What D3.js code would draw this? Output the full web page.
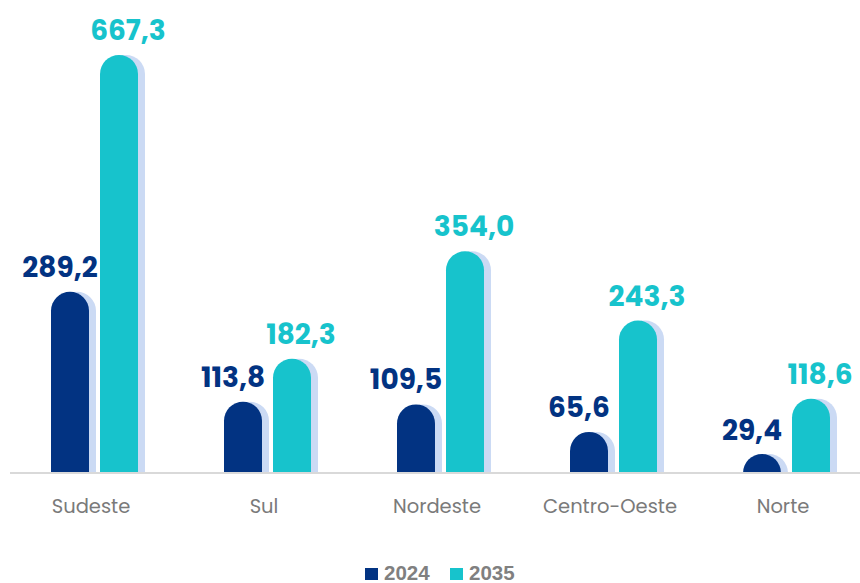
<!DOCTYPE html>
<html>
<head>
<meta charset="utf-8">
<script src="https://cdn.jsdelivr.net/npm/d3@7"></script>
<style>
  html, body { margin: 0; padding: 0; background: #fff; }
  svg { display: block; }
</style>
</head>
<body>
<svg id="chart" width="860" height="583"></svg>
<script>
// Regions and yearly values
const regions = ["Sudeste", "Sul", "Nordeste", "Centro-Oeste", "Norte"];
const series = ["2024", "2035"];
const values2024 = [289.2, 113.8, 109.5, 65.6, 29.4];
const values2035 = [667.3, 182.3, 354.0, 243.3, 118.6];

const colors = { "2024": "#023382", "2035": "#17c3cc" };
const shadowColor = "#cbdaf4";
const labelDx = { "2024": -10, "2035": 9 };

const svg = d3.select("#chart");
const baseY = 473, topY = 55;

const rows = regions.map((r, i) => ({ region: r, "2024": values2024[i], "2035": values2035[i] }));

const x0 = d3.scaleBand().domain(regions).range([8.5, 873.5]).paddingInner(0).paddingOuter(0);
const x1 = d3.scaleBand().domain(series).range([42.5, 129.5]).paddingInner(0.2245).paddingOuter(0);
const y = d3.scaleLinear().domain([0, d3.max(values2035)]).range([baseY, topY]);

const fmt = v => d3.format(".1f")(v).replace(".", ",");

// Bar with rounded top, square bottom
function barPath(x, w, yTop, yBase) {
  const r = Math.min(w / 2, (yBase - yTop));
  return `M${x},${yBase} L${x},${yTop + r} A${r},${r} 0 0 1 ${x + w},${yTop + r} L${x + w},${yBase} Z`;
}

const bw = x1.bandwidth();
const groups = svg.append("g").selectAll("g")
  .data(rows).join("g")
  .attr("transform", d => `translate(${x0(d.region)},0)`);

const items = groups.selectAll("g.bar")
  .data(d => series.map(s => ({ s, v: d[s] })))
  .join("g").attr("class", "bar");

// soft shadow to the right of each bar
items.append("path")
  .attr("d", d => barPath(x1(d.s) + 7, bw, y(d.v), baseY))
  .attr("fill", shadowColor);

items.append("path")
  .attr("d", d => barPath(x1(d.s), bw, y(d.v), baseY))
  .attr("fill", d => colors[d.s]);

items.append("text")
  .attr("x", d => x1(d.s) + bw / 2 + labelDx[d.s])
  .attr("y", d => y(d.v) - 15)
  .attr("text-anchor", "middle")
  .attr("font-family", "'Poppins', 'Liberation Sans', Arial, sans-serif")
  .attr("font-weight", 700)
  .attr("font-size", 28)
  .attr("fill", d => colors[d.s])
  .text(d => fmt(d.v));

// Category axis
const axis = svg.append("g")
  .attr("transform", `translate(0,${baseY})`)
  .call(d3.axisBottom(x0).tickSize(0).tickSizeOuter(0).tickPadding(26));
axis.select(".domain")
  .attr("d", `M10,0H860`)
  .attr("stroke", "#d9d9d9").attr("stroke-width", 2);
axis.selectAll(".tick text")
  .attr("dx", -4)
  .attr("font-family", "'Poppins', 'Open Sans', sans-serif")
  .attr("font-size", 19.5)
  .attr("fill", "#7a7a7a");

// Legend
const legend = svg.append("g").attr("transform", "translate(365,567)");
const legendX = [0, 85];
series.forEach((s, i) => {
  const g = legend.append("g").attr("transform", `translate(${legendX[i]},0)`);
  g.append("rect").attr("y", 1).attr("width", 13).attr("height", 12).attr("fill", colors[s]);
  g.append("text")
    .attr("x", 19).attr("y", 13)
    .attr("font-family", "'Liberation Sans', Arial, sans-serif")
    .attr("font-weight", 700)
    .attr("font-size", 20.5)
    .attr("fill", "#808080")
    .text(s);
});
</script>
</body>
</html>
